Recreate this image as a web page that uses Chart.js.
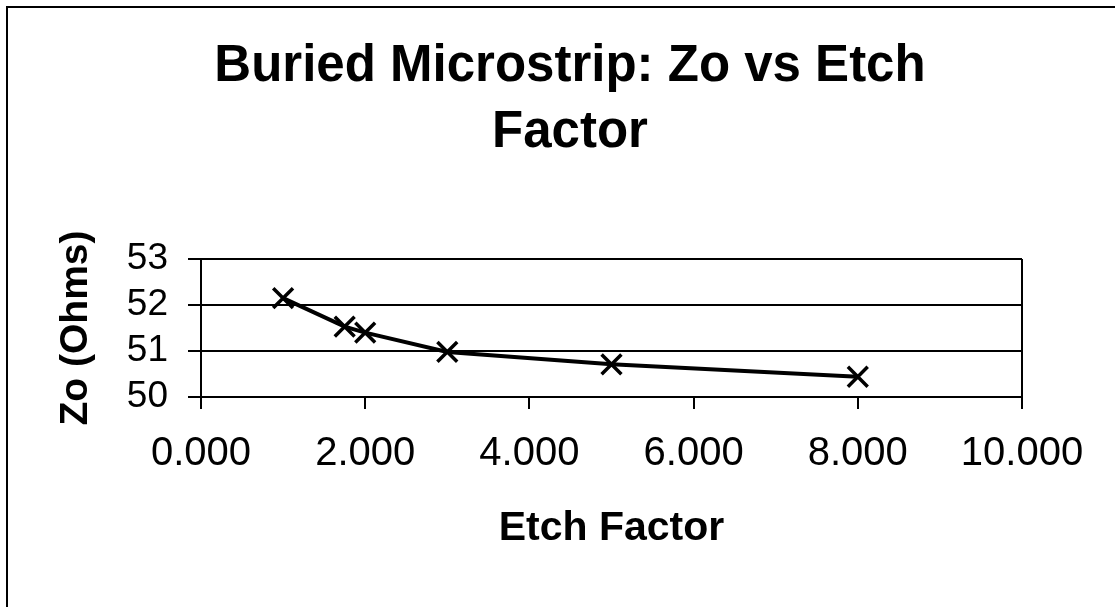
<!DOCTYPE html>
<html>
<head>
<meta charset="utf-8">
<script src="https://cdn.jsdelivr.net/npm/chart.js@4.4.0/dist/chart.umd.min.js"></script>
<style>
  html, body { margin: 0; padding: 0; background: #ffffff; overflow: hidden; }
  canvas { display: block; }
</style>
</head>
<body>
<canvas id="c" width="1115" height="607"></canvas>
<script>
// ---- data ----
const etchFactor = [1.0, 1.75, 2.0, 3.0, 5.0, 8.0];
const zoOhms     = [52.15, 51.53, 51.40, 50.98, 50.71, 50.44];
const titleLines = ['Buried Microstrip: Zo vs Etch', 'Factor'];
const xAxisTitle = 'Etch Factor';
const yAxisTitle = 'Zo (Ohms)';
const xTicks = { min: 0, max: 10, step: 2 };
const yTicks = { min: 50, max: 53, step: 1 };

const FONT = '"Liberation Sans", Arial, Helvetica, sans-serif';

const frame = {
  id: 'frame',
  beforeDraw(chart) {
    const ctx = chart.ctx;
    ctx.save();
    ctx.fillStyle = '#ffffff';
    ctx.fillRect(0, 0, chart.width, chart.height);
    ctx.strokeStyle = '#000000';
    ctx.lineWidth = 2;
    ctx.strokeRect(7, 7, 3000, 3000);
    ctx.restore();
  }
};

const points = etchFactor.map((x, i) => ({ x: x, y: zoOhms[i] }));

new Chart(document.getElementById('c'), {
  type: 'scatter',
  data: {
    datasets: [{
      data: points,
      showLine: true,
      borderColor: '#000000',
      borderWidth: 4,
      tension: 0,
      pointStyle: 'crossRot',
      pointRadius: 14,
      pointBorderWidth: 3.5,
      pointBorderColor: '#000000',
      pointBackgroundColor: '#000000'
    }]
  },
  options: {
    responsive: false,
    animation: false,
    devicePixelRatio: 1,
    layout: { padding: { left: 118, right: 93, top: 0, bottom: 0 } },
    plugins: {
      legend: { display: false },
      tooltip: { enabled: false },
      title: {
        display: true,
        text: titleLines,
        color: '#000000',
        font: { family: FONT, size: 51, weight: 'bold', lineHeight: 1.294 },
        padding: { top: 34, bottom: 93 }
      }
    },
    scales: {
      x: {
        type: 'linear',
        min: xTicks.min,
        max: xTicks.max,
        afterFit(scale) { scale.height = 210; },
        border: { display: true, color: '#000000', width: 2 },
        grid: {
          color: (c) => (c.tick && c.tick.value === xTicks.max) ? '#000000' : 'rgba(0,0,0,0)',
          lineWidth: 2,
          tickLength: 12,
          tickColor: '#000000',
          tickWidth: 2
        },
        ticks: {
          stepSize: xTicks.step,
          autoSkip: false,
          maxRotation: 0,
          color: '#000000',
          padding: 21,
          font: { family: FONT, size: 40 },
          callback: (v) => Number(v).toFixed(3)
        },
        title: {
          display: true,
          text: xAxisTitle,
          color: '#000000',
          font: { family: FONT, size: 41, weight: 'bold', lineHeight: 1.2 },
          padding: { top: 0, bottom: 54 }
        }
      },
      y: {
        type: 'linear',
        min: yTicks.min,
        max: yTicks.max,
        afterFit(scale) { scale.width = 83; },
        border: { display: true, color: '#000000', width: 2 },
        grid: {
          color: '#000000',
          lineWidth: 2,
          tickLength: 13,
          tickColor: '#000000',
          tickWidth: 2
        },
        ticks: {
          stepSize: yTicks.step,
          autoSkip: false,
          maxTicksLimit: 20,
          color: '#000000',
          padding: 20,
          font: { family: FONT, size: 37, lineHeight: 1 },
          callback: (v) => String(v)
        },
        title: {
          display: true,
          text: yAxisTitle,
          color: '#000000',
          font: { family: FONT, size: 39, weight: 'bold', lineHeight: 1.2 },
          padding: { top: -65, bottom: 0 }
        }
      }
    }
  },
  plugins: [frame]
});
</script>
</body>
</html>
